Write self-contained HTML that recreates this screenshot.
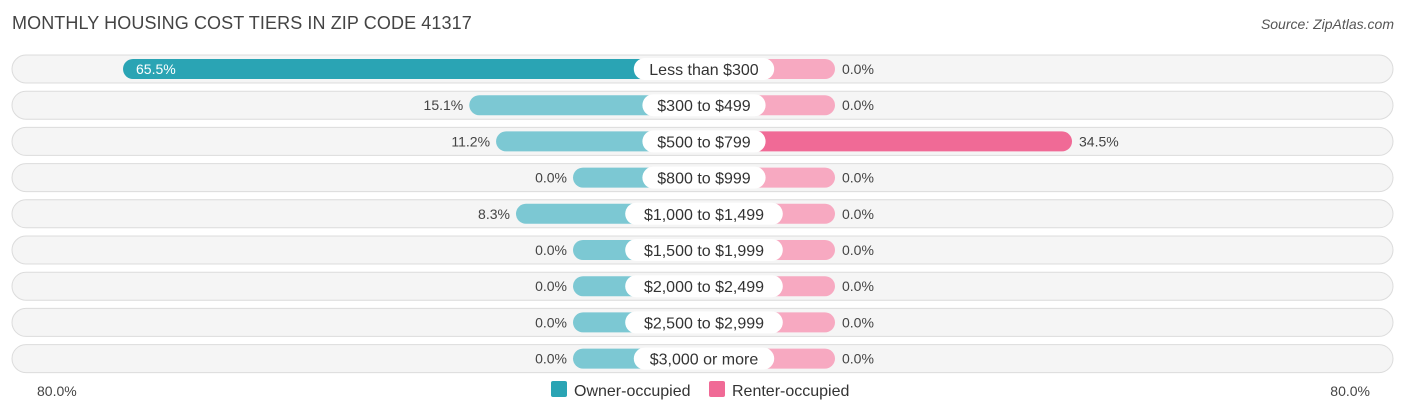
<!DOCTYPE html>
<html><head><meta charset="utf-8"><style>
body{margin:0;width:1406px;height:415px;background:#fff;font-family:"Liberation Sans",sans-serif;overflow:hidden;position:relative}
.title{position:absolute;left:12px;top:13px;font-size:18px;color:#444;letter-spacing:0.1px}
.src{position:absolute;right:12px;top:16px;font-size:14px;color:#555;font-style:italic}
</style></head><body>
<div class="title">MONTHLY HOUSING COST TIERS IN ZIP CODE 41317</div>
<div class="src">Source: ZipAtlas.com</div>
<svg id="chart" width="1406" height="415" style="position:absolute;left:0;top:0"></svg>
<script>
const categories=["Less than $300","$300 to $499","$500 to $799","$800 to $999","$1,000 to $1,499","$1,500 to $1,999","$2,000 to $2,499","$2,500 to $2,999","$3,000 or more"];
const ownerValues=[65.5,15.1,11.2,0.0,8.3,0.0,0.0,0.0,0.0];
const renterValues=[0.0,0.0,34.5,0.0,0.0,0.0,0.0,0.0,0.0];
const axisLabels=["80.0%","80.0%"];
const NS="http://www.w3.org/2000/svg";
const svg=document.getElementById('chart');
const cx=704, stub=131, k=6.87;
const w=v=>stub+v*k;
const rowY=i=>69+i*36.2;
function mk(t,a){const e=document.createElementNS(NS,t);for(const n in a)e.setAttribute(n,a[n]);svg.appendChild(e);return e;}
categories.forEach((c,i)=>{
  const y=rowY(i);
  const bg=mk('rect',{x:12,y:y-14,width:1381,height:28,rx:14,fill:'#f5f5f5',stroke:'#dcdcdc','stroke-width':1});
  
  
  const ov=ownerValues[i], rv=renterValues[i];
  const ow=w(ov);
  const ob=mk('rect',{x:cx-ow,y:y-10,width:ow,height:20,rx:10,fill:ov>50?'#2aa4b4':'#7cc8d3'});
  
  
  const rw=w(rv);
  const rb=mk('rect',{x:cx,y:y-10,width:rw,height:20,rx:10,fill:rv>20?'#f06a96':'#f7a9c1'});
  
  
  let ot;
  if(ov>50){ot=mk('text',{x:cx-ow+13,y:y+5,'font-size':14,fill:'#fff'});}
  else{ot=mk('text',{x:cx-ow-6,y:y+5,'font-size':14,fill:'#444','text-anchor':'end'});}
  ot.textContent=ov.toFixed(1)+'%';
  
  
  const rt=mk('text',{x:cx+rw+7,y:y+5,'font-size':14,fill:'#444'});
  rt.textContent=rv.toFixed(1)+'%';
  
  
  const lw=c.length*8.6+20;
  const lp=mk('rect',{x:cx-lw/2,y:y-11,width:lw,height:22,rx:11,fill:'#fff'});
  
  
  const lt=mk('text',{x:cx,y:y+6,'font-size':16,fill:'#333','text-anchor':'middle'});
  lt.textContent=c;
  
  
});
const a1=mk('text',{x:37,y:396,'font-size':14,fill:'#444'});a1.textContent=axisLabels[0];


const a2=mk('text',{x:1370,y:396,'font-size':14,fill:'#444','text-anchor':'end'});a2.textContent=axisLabels[1];


const l1=mk('rect',{x:551,y:381,width:16,height:16,rx:2,fill:'#2aa4b4'});


const l1t=mk('text',{x:574,y:396,'font-size':16,fill:'#333'});l1t.textContent='Owner-occupied';


const l2=mk('rect',{x:709,y:381,width:16,height:16,rx:2,fill:'#f06a96'});


const l2t=mk('text',{x:732,y:396,'font-size':16,fill:'#333'});l2t.textContent='Renter-occupied';


</script>
</body></html>
